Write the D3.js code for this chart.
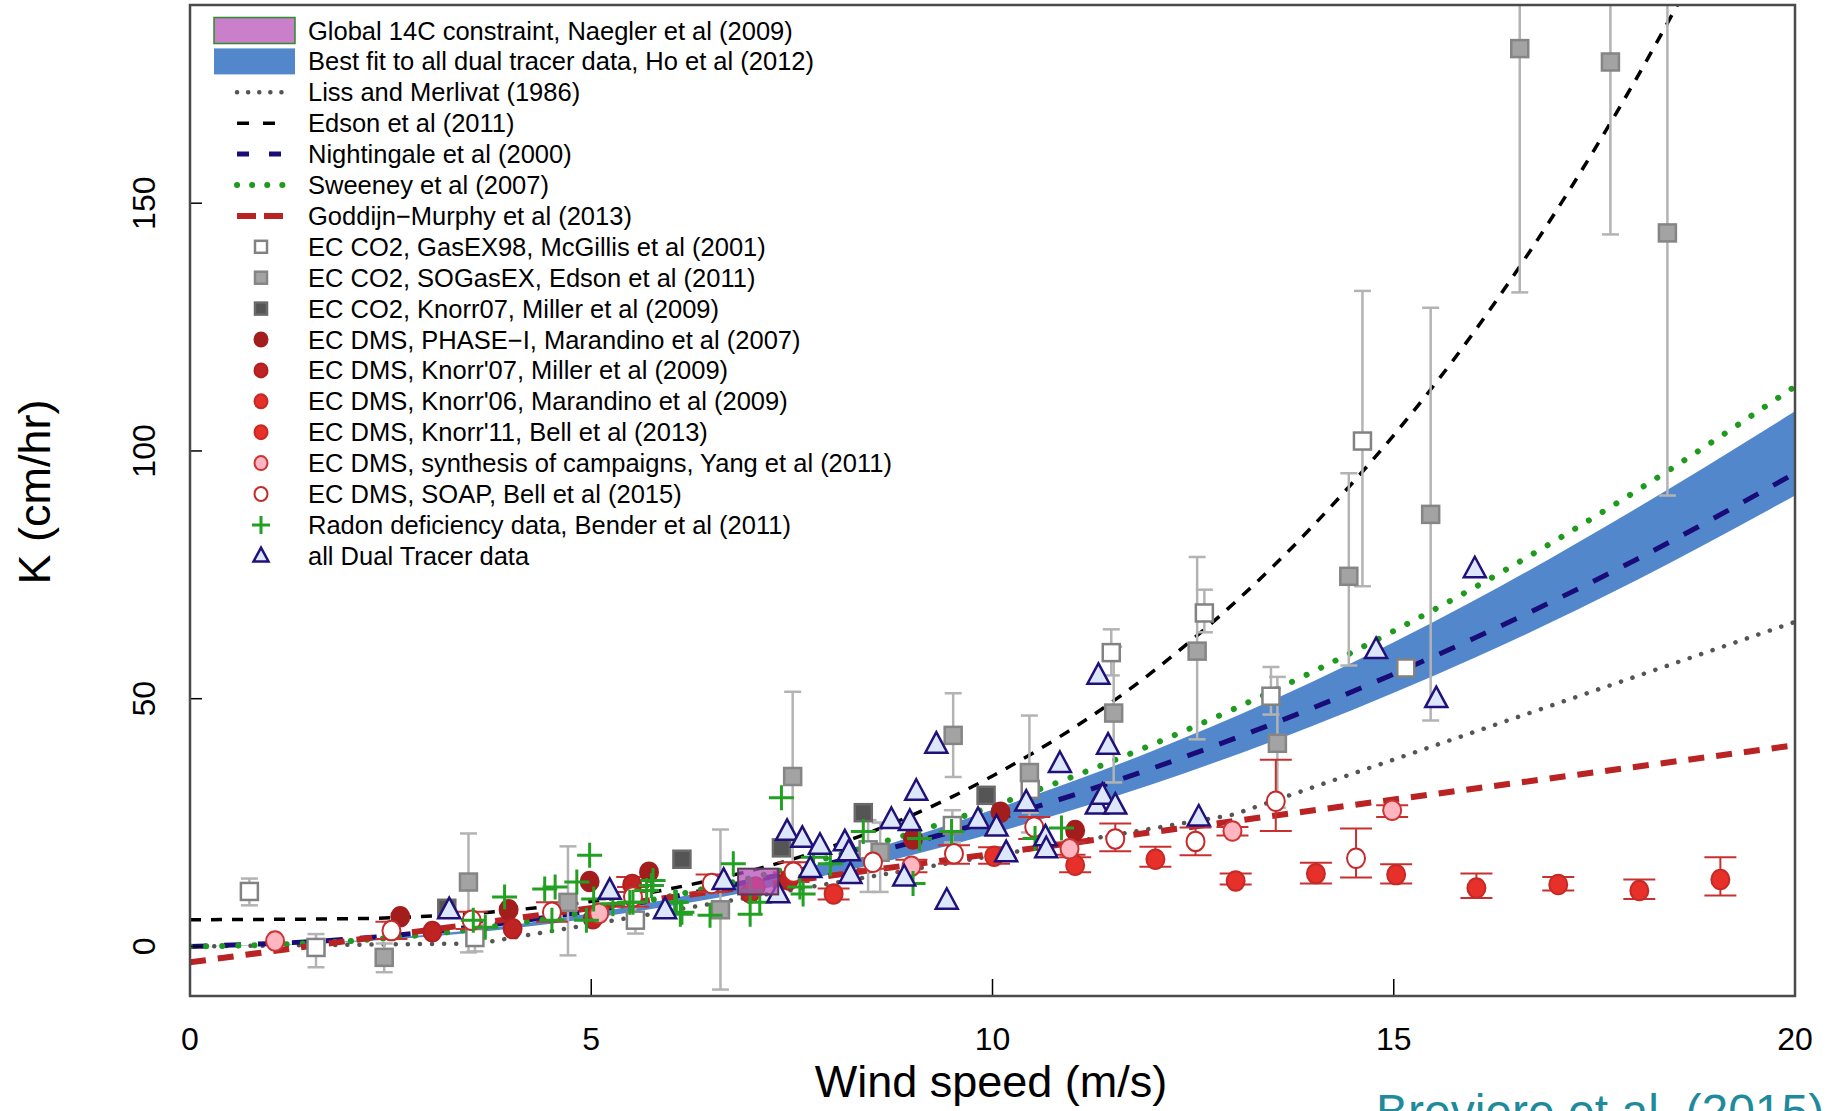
<!DOCTYPE html>
<html>
<head>
<meta charset="utf-8">
<script src="https://cdn.jsdelivr.net/npm/d3@7"></script>
<style>
body { margin: 0; background: #fff; }
svg { display: block; }
text { font-family: "Liberation Sans", Arial, sans-serif; }
</style>
</head>
<body>
<div id="viz"></div>
<script>
// values (wind speed m/s, K cm/hr)
var xTicks = [0, 5, 10, 15, 20];
var yTicks = [0, 50, 100, 150];

// parameterisation curves, sampled by eye
var lissMerlivat = [[0, 0], [3.6, 0.6], [13, 26.6], [20, 65.5]];
var edson = [[0, 5.4], [2, 5.6], [4, 7.3], [6, 11.7], [8, 20.2], [10, 34.4], [12, 55.5], [14, 85], [16, 124], [18, 174.5], [19, 204]];
var nightingale = [[0, 0], [2, 1.5], [4, 4.9], [6, 10], [8, 16.9], [10, 25.5], [12, 36], [14, 48.2], [16, 62.2], [18, 77.9], [20, 95.5]];
var sweeney = [[0, 0], [2, 1.1], [4, 4.5], [6, 10.2], [8, 18.1], [10, 28.3], [12, 40.8], [14, 55.5], [16, 72.4], [18, 91.7], [20, 113]];
var goddijn = [[0, -3.2], [20, 40.6]];
var hoUpper = [[0, 0], [2, 1.1], [4, 4.3], [6, 9.7], [8, 17.3], [10, 27.6], [12, 39.5], [14, 53.5], [16, 69.8], [18, 88.2], [20, 108]];
var hoLower = [[0, 0], [2, 0.9], [4, 3.6], [6, 8.2], [8, 14.6], [10, 22.8], [12, 32.8], [14, 44.6], [16, 58.2], [18, 73.7], [20, 91]];
var naeglerBox = [6.83, 7.33, 10.5, 15.7]; // u0, u1, k0, k1

// points: [u, K, errLow, errHigh]
var gasex98 = [[0.74, 11.1, 8.3, 13.7], [1.57, -0.2, -4.2, 2.5], [3.55, 1.8, -1, 4.5], [5.55, 5.3, 2.6, 8], [8.45, 19.5, 11, 25.5],
  [9.5, 24.4, 21, 27.5], [10.47, 31.7, 27, 36], [11.48, 59.3, 54.7, 64], [12.64, 67.3, 63.4, 72], [13.47, 50.5, 46.8, 56.4],
  [14.61, 102, 72.7, 132.3], [15.15, 56.2]];
var sogasex = [[2.42, -2.2, -5.2, 0.6], [3.47, 13, -1.2, 22.8], [4.71, 8.9, -1.8, 20.2], [6.61, 7.4, -8.7, 23.6], [7.51, 34.3, 17, 51.4],
  [8.6, 19, 11, 25], [9.51, 42.6, 34.2, 51.1], [10.46, 35.1, 23, 46.6], [11.51, 47.1, 33.1, 60.5], [12.55, 59.6, 41.8, 78.6],
  [13.55, 41, 28, 54.4], [14.44, 74.7, 56.7, 95.5], [15.46, 87.2, 45.6, 128.9], [16.57, 181.2, 132, 205], [17.7, 178.5, 143.7, 205],
  [18.41, 144, 91, 205]];
var knorr07co2 = [[3.2, 7.7], [6.13, 17.6], [7.37, 19.9], [8.39, 27], [9.92, 30.5]];
var phase1 = [[2.62, 6.0], [3.97, 7.4], [4.98, 13.1], [5.72, 15.0], [9.01, 21.7], [10.1, 27.1], [11.03, 23.4]];
var knorr07dms = [[3.02, 3.0], [4.02, 3.6], [5.02, 5.6], [5.51, 12.5, 11, 14], [6.98, 10.8], [7.46, 13.4, 12, 15]];
var knorr06 = [[7.05, 12.0], [8.02, 10.6, 9.5, 11.7], [10.02, 18.2, 16.7, 20]];
var knorr11 = [[11.03, 16.4, 15, 18], [12.03, 17.6, 16.1, 20.1], [13.03, 13.2, 12.5, 14.7], [14.03, 14.7, 12.7, 16.9], [15.03, 14.5, 12.7, 16.6],
  [16.03, 11.8, 9.8, 14.7], [17.05, 12.5, 11.3, 14], [18.06, 11.3, 9.6, 13.5], [19.07, 13.5, 10.3, 18]];
var yang = [[1.06, 1.1], [5.1, 6.7], [8.99, 16.2, 15, 17.5], [10.96, 19.7, 18.5, 21], [12.99, 23.3, 22.4, 24.1], [14.98, 27.5, 26.1, 28.5]];
var soap = [[2.51, 3.2, 1.5, 5], [3.51, 5.3, 3.5, 7], [4.51, 6.9, 5, 8.9], [5.52, 10, 8, 12], [6.5, 12.7, 11, 14.5], [7.52, 15, 13, 17],
  [8.51, 17, 15.7, 18], [9.52, 18.7, 16.7, 20.4], [10.52, 24.1, 21.7, 26.1], [11.53, 21.7, 19.2, 24.8], [12.53, 21.2, 18.4, 24],
  [13.53, 29.3, 23.3, 37.7], [14.53, 17.8, 13.9, 23.8]];
var radon = [[3.53, 5.3], [3.68, 3.9], [3.92, 10], [4.42, 11.6], [4.51, 5.3], [4.55, 12], [4.82, 13], [4.94, 5.3], [4.98, 18.4],
  [5.03, 9.6], [5.27, 8.6], [5.48, 8.9], [5.52, 8.9], [5.69, 11.3], [5.75, 12.3], [5.77, 13.3], [6.04, 8.9], [6.06, 8.9], [6.11, 6.5],
  [6.13, 6.9], [6.48, 6.3], [6.77, 16.7], [6.98, 11.3], [6.98, 6.5], [7.1, 8.9], [7.37, 30], [7.6, 12], [7.64, 10.6], [7.77, 18],
  [7.98, 16.7], [8.39, 23.2], [9.01, 12.7], [9.09, 21.8], [9.49, 23.2], [10.53, 21.8], [10.86, 23.9]];
var dualTracer = [[3.23, 7.4], [5.23, 11.3], [5.92, 7.4], [6.65, 13.3], [7.33, 10.6], [7.44, 23.2], [7.63, 21.8], [7.73, 15.7],
  [7.85, 20.4], [8.16, 21.1], [8.21, 19.1], [8.23, 14.5], [8.74, 25.6], [8.9, 14], [8.97, 25.2], [9.05, 31.3], [9.3, 40.8], [9.43, 9.3],
  [9.82, 25.6], [10.05, 24.1], [10.17, 18.9], [10.42, 29.1], [10.66, 22.1], [10.67, 19.7], [10.84, 36.9], [11.3, 28.5], [11.32, 54.7],
  [11.37, 30.5], [11.44, 40.6], [11.53, 28.5], [12.57, 26.1], [14.78, 59.9], [15.53, 50], [16.01, 76.2]];

var legendLabels = ["Global 14C constraint, Naegler et al (2009)", "Best fit to all dual tracer data, Ho et al (2012)",
  "Liss and Merlivat (1986)", "Edson et al (2011)", "Nightingale et al (2000)", "Sweeney et al (2007)",
  "Goddijn\u2212Murphy et al (2013)", "EC CO2, GasEX98, McGillis et al (2001)", "EC CO2, SOGasEX, Edson et al (2011)",
  "EC CO2, Knorr07, Miller et al (2009)", "EC DMS, PHASE\u2212I, Marandino et al (2007)", "EC DMS, Knorr'07, Miller et al (2009)",
  "EC DMS, Knorr'06, Marandino et al (2009)", "EC DMS, Knorr'11, Bell et al (2013)",
  "EC DMS, synthesis of campaigns, Yang et al (2011)", "EC DMS, SOAP, Bell et al (2015)",
  "Radon deficiency data, Bender et al (2011)", "all Dual Tracer data"];

// dimensions
var width = 1828, height = 1111;
var padLeft = 190, padRight = 1795, padTop = 5, padBottom = 996;

var svg = d3.select("#viz").append("svg").attr("width", width).attr("height", height);

var xscale = d3.scaleLinear().domain([0, 20]).range([padLeft, padRight]);
var yscale = d3.scaleLinear().domain([-10, 190]).range([padBottom, padTop]);

svg.append("clipPath").attr("id", "plotclip")
  .append("rect").attr("x", padLeft).attr("y", padTop).attr("width", padRight - padLeft).attr("height", padBottom - padTop);

var plot = svg.append("g").attr("clip-path", "url(#plotclip)");

// Ho et al band
var band = d3.area()
  .x(function(d) { return xscale(d[0]); })
  .y0(function(d, i) { return yscale(hoLower[i][1]); })
  .y1(function(d) { return yscale(d[1]); })
  .curve(d3.curveMonotoneX);
plot.append("path").datum(hoUpper).attr("d", band).attr("fill", "#5288cb");

var smooth = d3.line().x(function(d) { return xscale(d[0]); }).y(function(d) { return yscale(d[1]); }).curve(d3.curveMonotoneX);
var straight = d3.line().x(function(d) { return xscale(d[0]); }).y(function(d) { return yscale(d[1]); });

var curves = [
  { data: lissMerlivat, gen: straight, color: "#555555", w: 4.5, dash: "0.1,12", cap: "round", legendDash: "0.1,11" },
  { data: edson, gen: smooth, color: "#000000", w: 3.5, dash: "11,10", cap: "butt", legendDash: "12,14" },
  { data: nightingale, gen: smooth, color: "#1a0c78", w: 5, dash: "17,17", cap: "butt", legendDash: "12,20" },
  { data: sweeney, gen: smooth, color: "#1f9a1f", w: 6, dash: "0.1,16", cap: "round", legendDash: "0.1,15" },
  { data: goddijn, gen: straight, color: "#b92323", w: 6, dash: "16,12", cap: "butt", legendDash: "19,8" }
];
curves.forEach(function(c) {
  plot.append("path").datum(c.data).attr("d", c.gen)
    .attr("fill", "none").attr("stroke", c.color).attr("stroke-width", c.w)
    .attr("stroke-dasharray", c.dash).attr("stroke-linecap", c.cap);
});

// error bars
function errorBars(data, color, capW, w) {
  var withErr = data.filter(function(d) { return d.length > 2; });
  var g = plot.append("g").attr("stroke", color).attr("stroke-width", w).attr("fill", "none");
  g.selectAll("line.v").data(withErr).enter().append("line")
    .attr("x1", function(d) { return xscale(d[0]); }).attr("x2", function(d) { return xscale(d[0]); })
    .attr("y1", function(d) { return yscale(d[2]); }).attr("y2", function(d) { return yscale(d[3]); });
  [2, 3].forEach(function(k) {
    g.selectAll("line.c" + k).data(withErr).enter().append("line")
      .attr("x1", function(d) { return xscale(d[0]) - capW / 2; }).attr("x2", function(d) { return xscale(d[0]) + capW / 2; })
      .attr("y1", function(d) { return yscale(d[k]); }).attr("y2", function(d) { return yscale(d[k]); });
  });
}
errorBars(gasex98, "#b3b3b3", 17, 2.5);
errorBars(sogasex, "#b3b3b3", 17, 2.5);
errorBars(knorr07dms, "#c83030", 32, 2);
errorBars(knorr06, "#c83030", 32, 2);
errorBars(knorr11, "#c83030", 32, 2);
errorBars(yang, "#c83030", 32, 2);
errorBars(soap, "#c83030", 32, 2);

// marker shapes
function squares(g, data, size, fill, stroke, sc) {
  g.selectAll(null).data(data).enter().append("rect")
    .attr("x", function(d) { return sc.x(d[0]) - size / 2; }).attr("y", function(d) { return sc.y(d[1]) - size / 2; })
    .attr("width", size).attr("height", size)
    .attr("fill", fill).attr("stroke", stroke).attr("stroke-width", 2.5);
}
function circles(g, data, r, fill, stroke, sc) {
  g.selectAll(null).data(data).enter().append("ellipse")
    .attr("cx", function(d) { return sc.x(d[0]); }).attr("cy", function(d) { return sc.y(d[1]); })
    .attr("rx", r).attr("ry", r * 1.08)
    .attr("fill", fill).attr("stroke", stroke).attr("stroke-width", 2);
}
function pluses(g, data, size, sc) {
  g.selectAll(null).data(data).enter().append("path")
    .attr("d", function(d) {
      var x = sc.x(d[0]), y = sc.y(d[1]), h = size / 2;
      return "M" + (x - h) + "," + y + "H" + (x + h) + "M" + x + "," + (y - h) + "V" + (y + h);
    })
    .attr("stroke", "#22a022").attr("stroke-width", 3).attr("fill", "none");
}
function triangles(g, data, s, sc) {
  g.selectAll(null).data(data).enter().append("path")
    .attr("d", function(d) {
      var x = sc.x(d[0]), y = sc.y(d[1]);
      return "M" + x + "," + (y - s * 0.55) + "L" + (x + s / 2) + "," + (y + s * 0.38) + "L" + (x - s / 2) + "," + (y + s * 0.38) + "Z";
    })
    .attr("fill", "#dde7fb").attr("stroke", "#20107a").attr("stroke-width", 2.5).attr("stroke-linejoin", "miter");
}

var sc = { x: xscale, y: yscale };
var pts = plot.append("g");
squares(pts, gasex98, 17, "#ffffff", "#828282", sc);
squares(pts, sogasex, 17, "#a3a3a3", "#858585", sc);
squares(pts, knorr07co2, 17, "#555555", "#6a6a6a", sc);
circles(pts, phase1, 9, "#a41d1d", "#a41d1d", sc);
circles(pts, knorr07dms, 9, "#c02422", "#b02020", sc);
circles(pts, knorr06, 9, "#e52f29", "#c42a26", sc);
circles(pts, knorr11, 9, "#e8302a", "#c42a26", sc);
circles(pts, yang, 9, "#ffb6c1", "#cc3333", sc);
circles(pts, soap, 9, "#ffffff", "#c42a2a", sc);
pluses(pts, radon, 25, sc);
triangles(pts, dualTracer, 22, sc);

// Naegler 14C constraint box
plot.append("rect")
  .attr("x", xscale(naeglerBox[0])).attr("y", yscale(naeglerBox[3]))
  .attr("width", xscale(naeglerBox[1]) - xscale(naeglerBox[0]))
  .attr("height", yscale(naeglerBox[2]) - yscale(naeglerBox[3]))
  .attr("fill", "#b450b8").attr("fill-opacity", 0.75)
  .attr("stroke", "#5a3a5a").attr("stroke-width", 2);

// axes: ticks point inwards
svg.append("g").selectAll("line").data(xTicks).enter().append("line")
  .attr("x1", function(d) { return xscale(d); }).attr("x2", function(d) { return xscale(d); })
  .attr("y1", padBottom).attr("y2", padBottom - 17).attr("stroke", "#000").attr("stroke-width", 1.5);
svg.append("g").selectAll("line").data(yTicks).enter().append("line")
  .attr("x1", padLeft).attr("x2", padLeft + 12)
  .attr("y1", function(d) { return yscale(d); }).attr("y2", function(d) { return yscale(d); })
  .attr("stroke", "#000").attr("stroke-width", 1.5);

svg.append("rect").attr("x", padLeft).attr("y", padTop).attr("width", padRight - padLeft).attr("height", padBottom - padTop)
  .attr("fill", "none").attr("stroke", "#4a4a4a").attr("stroke-width", 2.5);

svg.append("g").selectAll("text").data(xTicks).enter().append("text")
  .attr("x", function(d) { return xscale(d); }).attr("y", 1050)
  .attr("text-anchor", "middle").attr("font-size", 32).text(function(d) { return d; });
svg.append("g").selectAll("text").data(yTicks).enter().append("text")
  .attr("transform", function(d) { return "translate(155," + yscale(d) + ") rotate(-90)"; })
  .attr("text-anchor", "middle").attr("font-size", 32).text(function(d) { return d; });

svg.append("text").attr("transform", "translate(50,492) rotate(-90)")
  .attr("text-anchor", "middle").attr("font-size", 45).text("K (cm/hr)");
svg.append("text").attr("x", 991).attr("y", 1097)
  .attr("text-anchor", "middle").attr("font-size", 45).text("Wind speed (m/s)");
svg.append("text").attr("x", 1376).attr("y", 1128)
  .attr("font-size", 48).attr("fill", "#1f8a9c").text("Breviere et al. (2015)");

// legend
var legend = svg.append("g");
var rowY = function(i) { return 30.5 + i * 30.9; };
var symX = 261;
legend.selectAll("text").data(legendLabels).enter().append("text")
  .attr("x", 308).attr("y", function(d, i) { return rowY(i) + 9; })
  .attr("font-size", 25.5).text(function(d) { return d; });

legend.append("rect").attr("x", 214).attr("y", rowY(0) - 13).attr("width", 81).attr("height", 26)
  .attr("fill", "#c97fc9").attr("stroke", "#2e8b2e").attr("stroke-width", 1.5);
legend.append("rect").attr("x", 214).attr("y", rowY(1) - 13).attr("width", 81).attr("height", 26)
  .attr("fill", "#5288cb");

curves.forEach(function(c, i) {
  legend.append("line").attr("x1", 237).attr("x2", 286).attr("y1", rowY(i + 2)).attr("y2", rowY(i + 2))
    .attr("stroke", c.color).attr("stroke-width", c.w)
    .attr("stroke-dasharray", c.legendDash).attr("stroke-linecap", c.cap);
});

var lsc = { x: function() { return symX; }, y: function(v) { return rowY(v); } };
squares(legend, [[0, 7]], 12, "#ffffff", "#828282", lsc);
squares(legend, [[0, 8]], 12, "#a3a3a3", "#858585", lsc);
squares(legend, [[0, 9]], 12, "#555555", "#6a6a6a", lsc);
circles(legend, [[0, 10]], 6.5, "#a41d1d", "#a41d1d", lsc);
circles(legend, [[0, 11]], 6.5, "#c02422", "#b02020", lsc);
circles(legend, [[0, 12]], 6.5, "#e52f29", "#c42a26", lsc);
circles(legend, [[0, 13]], 6.5, "#e8302a", "#c42a26", lsc);
circles(legend, [[0, 14]], 6.5, "#ffb6c1", "#cc3333", lsc);
circles(legend, [[0, 15]], 6.5, "#ffffff", "#c42a2a", lsc);
pluses(legend, [[0, 16]], 18, lsc);
triangles(legend, [[0, 17]], 15, lsc);
</script>
</body>
</html>
